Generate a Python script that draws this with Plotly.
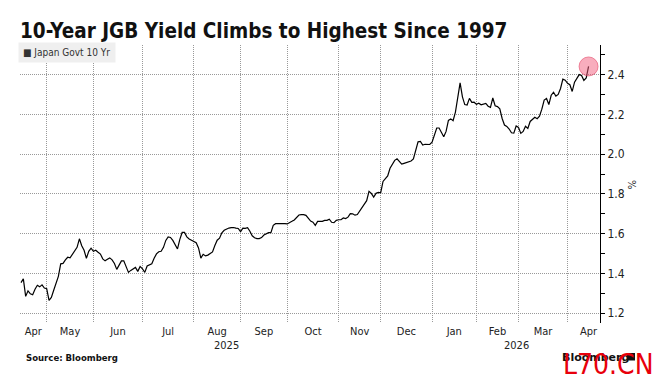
import numpy as np
import pandas as pd
import plotly.graph_objects as go

# ---------------- data ----------------
TITLE = "10-Year JGB Yield Climbs to Highest Since 1997"
SERIES_NAME = "Japan Govt 10 Yr"
SOURCE = "Source: Bloomberg"

# Japanese market holidays (weekdays) in the window; the axis skips them
HOLIDAYS = ["2025-04-29", "2025-05-05", "2025-05-06", "2025-07-21", "2025-08-11",
            "2025-09-15", "2025-09-23", "2025-10-13", "2025-11-03", "2025-11-24",
            "2025-12-31", "2026-01-01", "2026-01-02", "2026-01-12", "2026-02-11",
            "2026-02-23", "2026-03-20"]
START_DATE = "2025-04-15"
END_DATE = "2026-04-14"

MONTH_LABELS = ["Apr", "May", "Jun", "Jul", "Aug", "Sep", "Oct", "Nov", "Dec",
                "Jan", "Feb", "Mar", "Apr"]
YEAR_LABELS = ["2025", "2026"]

# daily 10-year JGB yield (%), one value per trading day
YIELD = [
    1.353, 1.372, 1.284, 1.312, 1.297, 1.292, 1.320, 1.340, 1.332, 1.342,
    1.326, 1.323, 1.264, 1.279, 1.315, 1.345, 1.385, 1.448, 1.450, 1.468,
    1.481, 1.478, 1.498, 1.513, 1.531, 1.574, 1.539, 1.516, 1.476, 1.511,
    1.527, 1.511, 1.516, 1.506, 1.497, 1.473, 1.463, 1.471, 1.478, 1.468,
    1.450, 1.420, 1.440, 1.463, 1.463, 1.435, 1.405, 1.415, 1.424, 1.430,
    1.410, 1.435, 1.423, 1.405, 1.437, 1.444, 1.448, 1.476, 1.498, 1.509,
    1.511, 1.531, 1.566, 1.584, 1.581, 1.566, 1.544, 1.523, 1.571, 1.606,
    1.606, 1.584, 1.573, 1.568, 1.560, 1.554, 1.528, 1.477, 1.496, 1.488,
    1.492, 1.498, 1.508, 1.540, 1.567, 1.577, 1.604, 1.617, 1.623, 1.628,
    1.630, 1.631, 1.628, 1.626, 1.610, 1.628, 1.627, 1.630, 1.612, 1.589,
    1.579, 1.575, 1.575, 1.580, 1.593, 1.601, 1.605, 1.605, 1.642, 1.650,
    1.650, 1.652, 1.653, 1.650, 1.649, 1.654, 1.662, 1.669, 1.682, 1.694,
    1.696, 1.696, 1.692, 1.679, 1.663, 1.658, 1.642, 1.662, 1.662, 1.662,
    1.667, 1.667, 1.673, 1.657, 1.655, 1.667, 1.670, 1.670, 1.679, 1.676,
    1.683, 1.701, 1.700, 1.693, 1.696, 1.712, 1.730, 1.748, 1.766, 1.813,
    1.803, 1.784, 1.803, 1.808, 1.806, 1.863, 1.876, 1.891, 1.929, 1.947,
    1.969, 1.977, 1.966, 1.950, 1.954, 1.959, 1.962, 1.966, 1.976, 2.014,
    2.062, 2.064, 2.046, 2.050, 2.048, 2.049, 2.061, 2.100, 2.132, 2.132,
    2.110, 2.088, 2.115, 2.170, 2.178, 2.169, 2.212, 2.296, 2.359, 2.289,
    2.250, 2.248, 2.281, 2.261, 2.262, 2.251, 2.257, 2.249, 2.252, 2.256,
    2.242, 2.236, 2.283, 2.244, 2.240, 2.229, 2.180, 2.147, 2.140, 2.127,
    2.108, 2.106, 2.142, 2.135, 2.105, 2.115, 2.141, 2.130, 2.165, 2.177,
    2.186, 2.179, 2.191, 2.227, 2.273, 2.281, 2.250, 2.297, 2.312, 2.293,
    2.301, 2.331, 2.378, 2.373, 2.357, 2.350, 2.316, 2.363, 2.380, 2.401,
    2.397, 2.372, 2.384, 2.442,
]

Y_RANGE = [1.15, 2.55]

# ---------------- calendar ----------------
days = pd.bdate_range(START_DATE, END_DATE, freq="C", holidays=HOLIDAYS)
n = min(len(days), len(YIELD))
days = days[:n]
vals = YIELD[:n]

full = pd.bdate_range("2025-04-01", "2026-05-15", freq="C", holidays=HOLIDAYS)
off = int(np.where(full == days[0])[0][0])


def at(f):
    """trading-day index (fractional) -> timestamp on the break axis"""
    k = int(np.floor(f))
    return full[k + off] + pd.Timedelta(days=float(f - k))


range_lo = -0.43
range_hi = (n - 1) + 4.9

# first trading day of each month (gridlines)
s = pd.Series(np.arange(n), index=days)
firsts = s.groupby([days.year, days.month]).first()
month_first_idx = list(firsts.values)[1:]
grid_vals = [days[i] for i in month_first_idx]

# label positions: centre of each month band
bounds = [range_lo] + month_first_idx
lab_pos = []
for j in range(len(bounds)):
    if j < len(bounds) - 1:
        lab_pos.append((bounds[j] + bounds[j + 1]) / 2)
    else:
        lab_pos.append(bounds[j] + 9)
lab_vals = [at(p) for p in lab_pos]

jan_idx = int(s[days.year == 2026].iloc[0])
year_pos = [(range_lo + jan_idx) / 2, (jan_idx + range_hi) / 2]

# ---------------- figure ----------------
FONT = "DejaVu Sans Condensed, DejaVu Sans, sans-serif"
GRID = "#999999"
DOTS = "1px,1px"

fig = go.Figure()
fig.add_trace(go.Scatter(x=days, y=vals, mode="lines",
                         line=dict(color="black", width=1.2),
                         name=SERIES_NAME, showlegend=False, hoverinfo="skip"))
fig.add_trace(go.Scatter(x=[days[-1]], y=[vals[-1]], mode="markers",
                         marker=dict(size=19, color="rgba(242,92,124,0.5)",
                                     line=dict(color="rgba(225,60,95,0.55)", width=1)),
                         showlegend=False, hoverinfo="skip"))

fig.update_layout(
    width=656, height=385,
    margin=dict(l=20, r=56, t=45, b=62),
    paper_bgcolor="white", plot_bgcolor="white",
    title=dict(text="<b>" + TITLE + "</b>", xref="container", yref="container",
               x=20 / 656, xanchor="left", y=1 - 31 / 385, yanchor="middle",
               font=dict(family=FONT, size=20.5, color="#111")),
    font=dict(family=FONT, size=11, color="#222"),
)

fig.update_xaxes(
    type="date",
    range=[at(range_lo), at(range_hi)],
    rangebreaks=[dict(bounds=["sat", "mon"]), dict(values=HOLIDAYS)],
    tickmode="array", tickvals=lab_vals, ticktext=MONTH_LABELS,
    ticks="", showgrid=False, showline=False, zeroline=False,
    tickfont=dict(family=FONT, size=11, color="#222"),
    minor=dict(tickmode="array", tickvals=grid_vals, showgrid=True,
               gridcolor=GRID, griddash=DOTS, gridwidth=1, ticks=""),
)

fig.update_yaxes(
    side="right", range=Y_RANGE,
    tick0=1.2, dtick=0.2, tickformat=".1f",
    showline=True, linecolor="black", linewidth=1,
    ticks="outside", ticklen=4, tickcolor="black",
    showgrid=True, gridcolor=GRID, griddash=DOTS, gridwidth=1,
    zeroline=False,
    tickfont=dict(family=FONT, size=12, color="#222"),
    minor=dict(dtick=0.1, ticks="outside", ticklen=4, tickcolor="black", showgrid=False),
)

annotations = [
    # legend box
    dict(text="■ " + SERIES_NAME, xref="paper", yref="paper", x=-2 / 580, y=1,
         xanchor="left", yanchor="middle", yshift=-7.5, showarrow=False,
         align="left", width=88, bgcolor="#efefef", borderpad=4,
         font=dict(family=FONT, size=10, color="#333")),
    # % unit
    dict(text="%", xref="paper", yref="paper", x=(632 - 20) / 580, y=0.5,
         xanchor="center", yanchor="middle", textangle=90, showarrow=False,
         font=dict(family=FONT, size=11, color="#333")),
    # source
    dict(text="<b>" + SOURCE + "</b>", xref="paper", yref="paper", x=4 / 580, y=0,
         xanchor="left", yanchor="middle", yshift=-34, showarrow=False,
         font=dict(family=FONT, size=9.5, color="#111")),
    # Bloomberg logo text
    dict(text="<b>Bloomberg</b>", xref="paper", yref="paper", x=(560 - 20) / 580, y=0,
         xanchor="left", yanchor="middle", yshift=-34, showarrow=False,
         font=dict(family="DejaVu Sans, sans-serif", size=11, color="#111")),
    # watermark
    dict(text="L70.CN", xref="paper", yref="paper", x=(561 - 20) / 580, y=0,
         xanchor="left", yanchor="middle", yshift=-41, showarrow=False,
         font=dict(family="DejaVu Sans Condensed, sans-serif",
                   size=28, color="#e8000b")),
]
for lab, p in zip(YEAR_LABELS, year_pos):
    annotations.append(dict(text=lab, xref="x", yref="paper", x=at(p), y=0,
                            xanchor="center", yanchor="middle", yshift=-22,
                            showarrow=False,
                            font=dict(family=FONT, size=11, color="#222")))
fig.update_layout(annotations=annotations)

fig.add_shape(type="rect", xref="paper", yref="paper",
              x0=(628 - 20) / 580, x1=(635 - 20) / 580,
              y0=(323 - 360.5) / 278, y1=(323 - 353) / 278,
              fillcolor="#111", line=dict(width=0), layer="above")

fig.write_html("out.html",
               config={"displayModeBar": False},
               post_script="document.body.style.margin='0px';"
                           "document.body.style.overflow='hidden';")
